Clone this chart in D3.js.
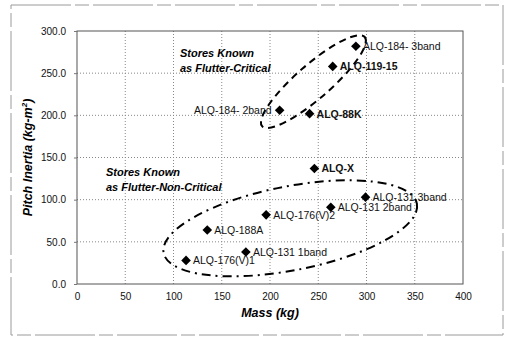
<!DOCTYPE html>
<html>
<head>
<meta charset="utf-8">
<script src="https://cdn.jsdelivr.net/npm/d3@7"></script>
<style>
  body { margin: 0; background: #fff; }
  svg text { font-family: "Liberation Sans", Arial, sans-serif; }
</style>
</head>
<body>
<div id="chart"></div>
<script>
// store names, mass (kg), pitch inertia (kg-m^2)
const stores = ['ALQ-184- 3band', 'ALQ-119-15', 'ALQ-184- 2band', 'ALQ-88K', 'ALQ-X',
  'ALQ-131 3band', 'ALQ-131 2band', 'ALQ-176(V)2', 'ALQ-188A', 'ALQ-131 1band', 'ALQ-176(V)1']
const mass = [289, 265, 210, 241, 246, 299, 263, 196, 135, 175, 113]
const pitch = [282, 258, 206, 202, 137, 103, 91, 82, 64, 38, 28]
const boldLabel = [false, true, false, true, true, false, false, false, false, false, false]
const labelLeft = [false, false, true, false, false, false, false, false, false, false, false]
const xTicks = [0, 50, 100, 150, 200, 250, 300, 350, 400]
const yTicks = [0, 50, 100, 150, 200, 250, 300]

const W = 505, H = 337
const svg = d3.select('#chart').append('svg').attr('width', W).attr('height', H)

const x = d3.scaleLinear().domain([0, 400]).range([77, 463])
const y = d3.scaleLinear().domain([0, 300]).range([284, 31])

// chart area border (scanned, broken grey line)
svg.append('rect').attr('x', 11).attr('y', 5).attr('width', 492).attr('height', 330)
  .attr('fill', 'none').attr('stroke', '#9a9a9a').attr('stroke-width', 1)
  .attr('stroke-dasharray', '60,4,14,4')

// grid
const grid = svg.append('g').attr('class', 'grid')
grid.selectAll('.gx').data(xTicks.slice(1, -1)).enter().append('line')
  .attr('x1', d => x(d)).attr('x2', d => x(d)).attr('y1', y(0)).attr('y2', y(300))
  .attr('stroke', '#888').attr('stroke-dasharray', '1,2')
grid.selectAll('.gy').data(yTicks.slice(1, -1)).enter().append('line')
  .attr('y1', d => y(d)).attr('y2', d => y(d)).attr('x1', x(0)).attr('x2', x(400))
  .attr('stroke', '#888').attr('stroke-dasharray', '1,2')

// plot frame
svg.append('rect').attr('x', x(0)).attr('y', y(300))
  .attr('width', x(400) - x(0)).attr('height', y(0) - y(300))
  .attr('fill', 'none').attr('stroke', '#555').attr('stroke-width', 1)

// axes
const xAxis = svg.append('g').attr('transform', `translate(0,${y(0)})`)
  .call(d3.axisBottom(x).tickValues(xTicks).tickSize(0).tickPadding(9))
const yAxis = svg.append('g').attr('transform', `translate(${x(0)},0)`)
  .call(d3.axisLeft(y).tickValues(yTicks).tickSize(3).tickPadding(8).tickFormat(d3.format('.1f')))
;[xAxis, yAxis].forEach(a => {
  a.select('.domain').remove()
  a.selectAll('text').attr('font-size', 10).attr('fill', '#111')
    .attr('font-family', '"Liberation Sans", Arial, sans-serif')
  a.selectAll('line').attr('stroke', '#777')
})

// axis titles
svg.append('text').attr('x', (x(0) + x(400)) / 2).attr('y', 317)
  .attr('text-anchor', 'middle').attr('font-size', 12.5).attr('font-weight', 'bold')
  .attr('font-style', 'italic').text('Mass (kg)')
const yt = svg.append('text').attr('transform', `translate(32,${(y(0) + y(300)) / 2}) rotate(-90)`)
  .attr('text-anchor', 'middle').attr('font-size', 12.5).attr('font-weight', 'bold')
  .attr('font-style', 'italic')
yt.append('tspan').text('Pitch Inertia (kg-m')
yt.append('tspan').attr('font-size', 8).attr('dy', -5).text('2')
yt.append('tspan').attr('dy', 5).text(')')

// group outlines (ellipses in data units)
function ellipse(cx, cy, rx, ry, ang, dash) {
  svg.append('ellipse').attr('cx', 0).attr('cy', 0).attr('rx', rx).attr('ry', ry)
    .attr('transform', `translate(${x(cx)},${y(cy)}) rotate(${ang})`)
    .attr('fill', 'none').attr('stroke', '#000').attr('stroke-width', 2)
    .attr('stroke-dasharray', dash)
}
ellipse(245, 240, 68, 17, -41, '7,5')
ellipse(221, 66, 129, 42, -11, '9,5,2,5')

// markers and labels
const pts = svg.append('g').attr('class', 'points')
const diamond = 'M0,-4.8L4.8,0L0,4.8L-4.8,0Z'
stores.forEach((name, i) => {
  const px = x(mass[i]), py = y(pitch[i])
  pts.append('path').attr('d', diamond).attr('transform', `translate(${px},${py})`).attr('fill', '#000')
  pts.append('text').attr('x', labelLeft[i] ? px - 8 : px + 7).attr('y', py + 4)
    .attr('text-anchor', labelLeft[i] ? 'end' : 'start')
    .attr('font-size', 10.5).attr('font-weight', boldLabel[i] ? 'bold' : 'normal')
    .attr('fill', '#111').text(name)
})

// group captions
function caption(tx, ty, lines) {
  lines.forEach((l, k) => svg.append('text').attr('x', tx).attr('y', ty + k * 15)
    .attr('font-size', 11).attr('font-weight', 'bold').attr('font-style', 'italic').text(l))
}
caption(180, 57, ['Stores  Known', 'as Flutter-Critical'])
caption(106, 176, ['Stores Known', 'as Flutter-Non-Critical'])
</script>
</body>
</html>
